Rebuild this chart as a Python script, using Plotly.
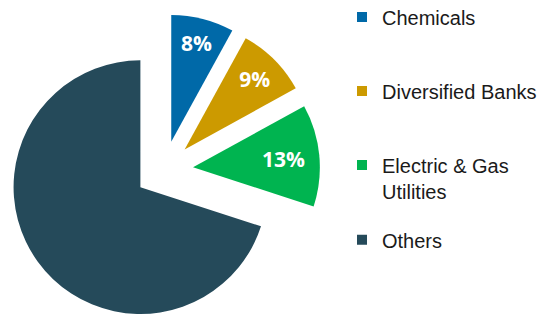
import plotly.graph_objects as go

labels = ["Chemicals", "Diversified Banks", "Electric & Gas<br>Utilities", "Others"]
values = [8, 9, 13, 70]
slice_text = ["8%", "9%", "13%", ""]
colors = ["#0069a8", "#cc9a00", "#00b450", "#254a5a"]
pulls = [0.23, 0.23, 0.23, 0.23]

H = 330
fig = go.Figure()
fig.add_trace(go.Pie(
    labels=labels, values=values, text=slice_text, textinfo="text",
    sort=False, direction="clockwise", rotation=0,
    pull=pulls,
    marker=dict(colors=colors, line=dict(width=0)),
    textposition="inside", insidetextorientation="horizontal",
    textfont=dict(family="Open Sans", size=21, color="white", weight="bold"),
    domain=dict(x=[0, 0.5693], y=[0.03636, 0.98182]),
    showlegend=False, hoverinfo="label+percent",
))

# legend entries (one per category)
for i, (lab, col) in enumerate(zip(labels, colors)):
    fig.add_trace(go.Scatter(
        x=[None], y=[None], mode="markers", name=lab,
        marker=dict(symbol="square", size=10, color=col),
        legendgroup=lab, showlegend=True,
        legend="legend" if i < 3 else "legend2",
    ))

legend_font = dict(family="Liberation Sans, Arial", size=20, color="#1a1a1a")
fig.update_layout(
    width=548, height=H,
    margin=dict(l=0, r=0, t=0, b=0, autoexpand=False),
    paper_bgcolor="white", plot_bgcolor="white",
    xaxis=dict(visible=False), yaxis=dict(visible=False),
    legend=dict(x=0.6095, y=0.709, xanchor="left", yanchor="middle",
                font=legend_font, tracegroupgap=45, valign="top",
                bgcolor="rgba(0,0,0,0)"),
    legend2=dict(x=0.6095, y=0.357, xanchor="left", yanchor="top",
                 font=legend_font, valign="top", bgcolor="rgba(0,0,0,0)"),
)

fig.write_html("out.html")
